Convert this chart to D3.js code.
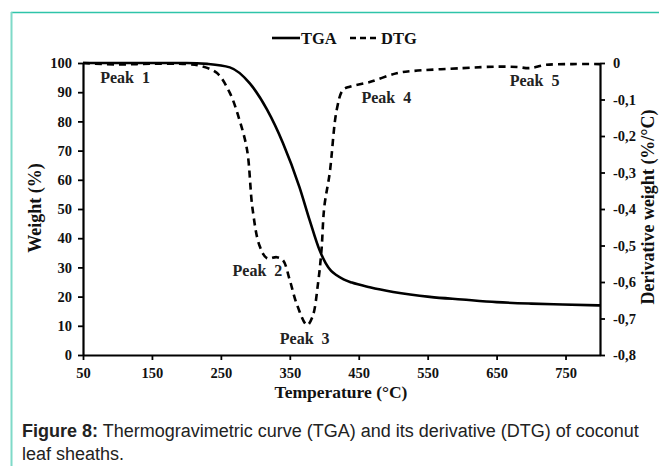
<!DOCTYPE html>
<html><head><meta charset="utf-8">
<script src="https://cdn.jsdelivr.net/npm/d3@7"></script>
<style>
html,body{margin:0;padding:0;background:#fff;}
svg{display:block;}
</style></head>
<body><svg id="c" width="659" height="466"></svg>
<script>
// Data
const tgaTemp = [50, 200, 230, 263, 292, 317, 340, 364, 379, 393, 402, 410, 418, 428, 440, 466, 500, 553, 600, 650, 700, 746, 800];
const tgaWeight = [100, 100, 99.7, 98.5, 93, 84, 72.6, 57.5, 46, 36, 31.5, 28.8, 27.3, 25.9, 24.8, 23.2, 21.6, 19.9, 19.0, 18.1, 17.6, 17.3, 17.0];
const dtgTemp = [50, 100, 150, 200, 220, 244, 263, 277, 288, 296, 306, 317, 331, 340, 350, 360, 375, 383, 391, 396, 400, 408, 418, 427, 437, 466, 505, 528, 601, 650, 680, 698, 722, 760, 800];
const dtgValue = [0, -0.004, -0.002, -0.003, -0.008, -0.027, -0.082, -0.156, -0.238, -0.40, -0.50, -0.535, -0.532, -0.54, -0.595, -0.66, -0.718, -0.695, -0.603, -0.512, -0.395, -0.30, -0.129, -0.074, -0.065, -0.052, -0.028, -0.022, -0.014, -0.010, -0.011, -0.014, -0.005, -0.003, -0.003];
const xTicks = [50, 150, 250, 350, 450, 550, 650, 750];
const yTicks = [0, 10, 20, 30, 40, 50, 60, 70, 80, 90, 100];
const y2Ticks = [0, -0.1, -0.2, -0.3, -0.4, -0.5, -0.6, -0.7, -0.8];
const peakText = ["Peak  1", "Peak  2", "Peak  3", "Peak  4", "Peak  5"];
const peakTemp = [75, 267, 335.5, 454, 669];
const peakWeight = [93.2, 27.2, 3.8, 86.3, 92.1];

const svg = d3.select("#c");
const serif = "'Liberation Serif','Times New Roman',serif";
const sans = "'Liberation Sans',Arial,sans-serif";

// frame
svg.append("line").attr("x1",11).attr("x2",659).attr("y1",12.5).attr("y2",12.5).attr("stroke","#2ec4a9").attr("stroke-width",1.5);
svg.append("line").attr("x1",11.5).attr("x2",11.5).attr("y1",12).attr("y2",466).attr("stroke","#7fdac8").attr("stroke-width",2);

const x = d3.scaleLinear().domain([50, 800]).range([83, 600]);
const y = d3.scaleLinear().domain([0, 100]).range([355, 63]);
const y2 = d3.scaleLinear().domain([-0.8, 0]).range([355, 63]);

const fmt2 = d => d === 0 ? "0" : d3.format(".1f")(d).replace(".", ",").replace("−","-");

const gx = svg.append("g").attr("transform","translate(0,355)")
  .call(d3.axisBottom(x).tickValues(xTicks).tickSize(5).tickSizeOuter(0).tickFormat(d3.format("d")));
const gy = svg.append("g").attr("transform","translate(83,0)")
  .call(d3.axisLeft(y).tickValues(yTicks).tickSize(5).tickSizeOuter(0));
const gy2 = svg.append("g").attr("transform","translate(600,0)")
  .call(d3.axisRight(y2).tickValues(y2Ticks).tickSize(5).tickSizeOuter(0).tickFormat(fmt2));

[gx, gy, gy2].forEach(g => {
  g.select(".domain").attr("stroke","#000").attr("stroke-width",2.2);
  g.selectAll(".tick line").attr("stroke","#000").attr("stroke-width",1.8);
  g.selectAll(".tick text").attr("font-family",serif).attr("font-weight","bold").attr("font-size",14.5).attr("fill","#111");
});
gx.selectAll(".tick text").attr("y",13).attr("dy","0.71em");
gy.selectAll(".tick text").attr("x",-11);
gy2.selectAll(".tick text").attr("x",13);

// curves
const tga = tgaTemp.map((t,i)=>({t, v: tgaWeight[i]}));
const dtg = dtgTemp.map((t,i)=>({t, v: dtgValue[i]}));
const lineT = d3.line().x(d=>x(d.t)).y(d=>y(d.v)).curve(d3.curveMonotoneX);
const lineD = d3.line().x(d=>x(d.t)).y(d=>y2(d.v)).curve(d3.curveCatmullRom.alpha(0.5));
svg.append("path").datum(tga).attr("d",lineT).attr("fill","none").attr("stroke","#000").attr("stroke-width",2.6);
svg.append("path").datum(dtg).attr("d",lineD).attr("fill","none").attr("stroke","#000").attr("stroke-width",2.6).attr("stroke-dasharray","7,5");

// peak labels
svg.selectAll(".pk").data(peakText).enter().append("text")
  .attr("x",(d,i)=>x(peakTemp[i])).attr("y",(d,i)=>y(peakWeight[i]))
  .attr("font-family",serif).attr("font-weight","bold").attr("font-size",16).attr("fill","#222")
  .style("white-space","pre")
  .text(d=>d);

// legend
svg.append("line").attr("x1",272).attr("x2",300).attr("y1",38).attr("y2",38).attr("stroke","#000").attr("stroke-width",2.6);
svg.append("text").attr("x",301).attr("y",44).attr("font-family",serif).attr("font-weight","bold").attr("font-size",16.5).attr("fill","#111").text("TGA");
svg.append("line").attr("x1",350).attr("x2",380).attr("y1",38).attr("y2",38).attr("stroke","#000").attr("stroke-width",2.6).attr("stroke-dasharray","6,4");
svg.append("text").attr("x",381).attr("y",44).attr("font-family",serif).attr("font-weight","bold").attr("font-size",16.5).attr("fill","#111").text("DTG");

// axis titles
svg.append("text").attr("x",341).attr("y",398).attr("text-anchor","middle")
  .attr("font-family",serif).attr("font-weight","bold").attr("font-size",17.5).attr("fill","#111").text("Temperature (°C)");
svg.append("text").attr("transform","translate(41,208) rotate(-90)").attr("text-anchor","middle")
  .attr("font-family",serif).attr("font-weight","bold").attr("font-size",18).attr("fill","#111").text("Weight (%)");
svg.append("text").attr("transform","translate(654,207) rotate(-90)").attr("text-anchor","middle")
  .attr("font-family",serif).attr("font-weight","bold").attr("font-size",18).attr("fill","#111").text("Derivative weight (%/°C)");

// caption
const cap = svg.append("text").attr("x",22).attr("y",437).attr("font-family",sans).attr("font-size",18).attr("fill","#222");
cap.append("tspan").attr("font-weight","bold").text("Figure 8:");
cap.append("tspan").text(" Thermogravimetric curve (TGA) and its derivative (DTG) of coconut");
svg.append("text").attr("x",22).attr("y",460).attr("font-family",sans).attr("font-size",18).attr("fill","#222").text("leaf sheaths.");
</script></body></html>
